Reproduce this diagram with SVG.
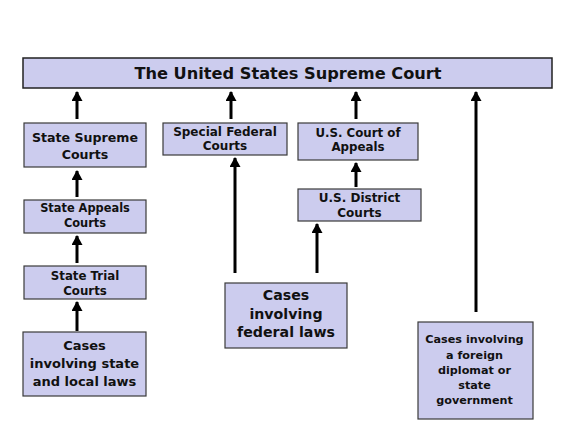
<svg xmlns="http://www.w3.org/2000/svg" width="577" height="433" viewBox="0 0 577 433">
<style>
.box{fill:#ccccee;stroke:#3a3a3a;stroke-width:1.2}
.bar{fill:#ccccee;stroke:#222;stroke-width:1.5}
text{font-family:"DejaVu Sans","Verdana",sans-serif;font-weight:bold;fill:#111;text-anchor:middle}
.conn line{stroke:#000;stroke-width:3;marker-end:url(#ah)}
</style>
<defs>
<marker id="ah" markerUnits="userSpaceOnUse" markerWidth="10" markerHeight="11" refX="9" refY="5.5" orient="auto">
<path d="M0,0 L10,5.5 L0,11 Z" fill="#000"/>
</marker>
</defs>
<rect width="577" height="433" fill="#fff"/>
<g id="supreme-court">
<rect class="bar" x="23" y="58" width="529" height="30"/>
<text x="288" y="79" font-size="16.2">The United States Supreme Court</text>
</g>
<g id="state-supreme">
<rect class="box" x="24" y="123" width="122" height="44"/>
<text x="85" y="141.5" font-size="12.6">State Supreme</text>
<text x="85" y="158.5" font-size="12.6">Courts</text>
</g>
<g id="special-federal">
<rect class="box" x="163" y="123" width="124" height="32"/>
<text x="225" y="136" font-size="12">Special Federal</text>
<text x="225" y="149.5" font-size="12">Courts</text>
</g>
<g id="court-of-appeals">
<rect class="box" x="298" y="123" width="120" height="37"/>
<text x="358" y="136.5" font-size="11.8">U.S. Court of</text>
<text x="358" y="150.5" font-size="11.8">Appeals</text>
</g>
<g id="state-appeals">
<rect class="box" x="24" y="200" width="122" height="33"/>
<text x="85" y="212" font-size="11.4">State Appeals</text>
<text x="85" y="227" font-size="11.4">Courts</text>
</g>
<g id="district-courts">
<rect class="box" x="298" y="189" width="123" height="32"/>
<text x="359.5" y="201.5" font-size="12">U.S. District</text>
<text x="359.5" y="216.5" font-size="12">Courts</text>
</g>
<g id="state-trial">
<rect class="box" x="24" y="266" width="122" height="33"/>
<text x="85" y="280" font-size="11.8">State Trial</text>
<text x="85" y="294.5" font-size="11.8">Courts</text>
</g>
<g id="federal-cases">
<rect class="box" x="225" y="283" width="122" height="65"/>
<text x="286" y="300" font-size="14.2">Cases</text>
<text x="286" y="318.5" font-size="14.2">involving</text>
<text x="286" y="337" font-size="14.2">federal laws</text>
</g>
<g id="state-cases">
<rect class="box" x="23" y="332" width="123" height="64"/>
<text x="84.5" y="349.5" font-size="13">Cases</text>
<text x="84.5" y="367.5" font-size="13">involving state</text>
<text x="84.5" y="385.5" font-size="13">and local laws</text>
</g>
<g id="diplomat-cases">
<rect class="box" x="418" y="322" width="115" height="97"/>
<text x="474.5" y="343" font-size="11.2">Cases involving</text>
<text x="474.5" y="358.5" font-size="11.2">a foreign</text>
<text x="474.5" y="373.5" font-size="11.2">diplomat or</text>
<text x="474.5" y="389" font-size="11.2">state</text>
<text x="474.5" y="404" font-size="11.2">government</text>
</g>
<g id="connectors" class="conn">
<line x1="77" y1="119" x2="77" y2="92"/>
<line x1="231" y1="119" x2="231" y2="92"/>
<line x1="356" y1="119" x2="356" y2="92"/>
<line x1="476" y1="312" x2="476" y2="92"/>
<line x1="77" y1="197" x2="77" y2="171"/>
<line x1="77" y1="263" x2="77" y2="236"/>
<line x1="77" y1="331" x2="77" y2="302"/>
<line x1="235" y1="273" x2="235" y2="158"/>
<line x1="356" y1="187" x2="356" y2="163"/>
<line x1="317" y1="273" x2="317" y2="224"/>
</g>
</svg>
